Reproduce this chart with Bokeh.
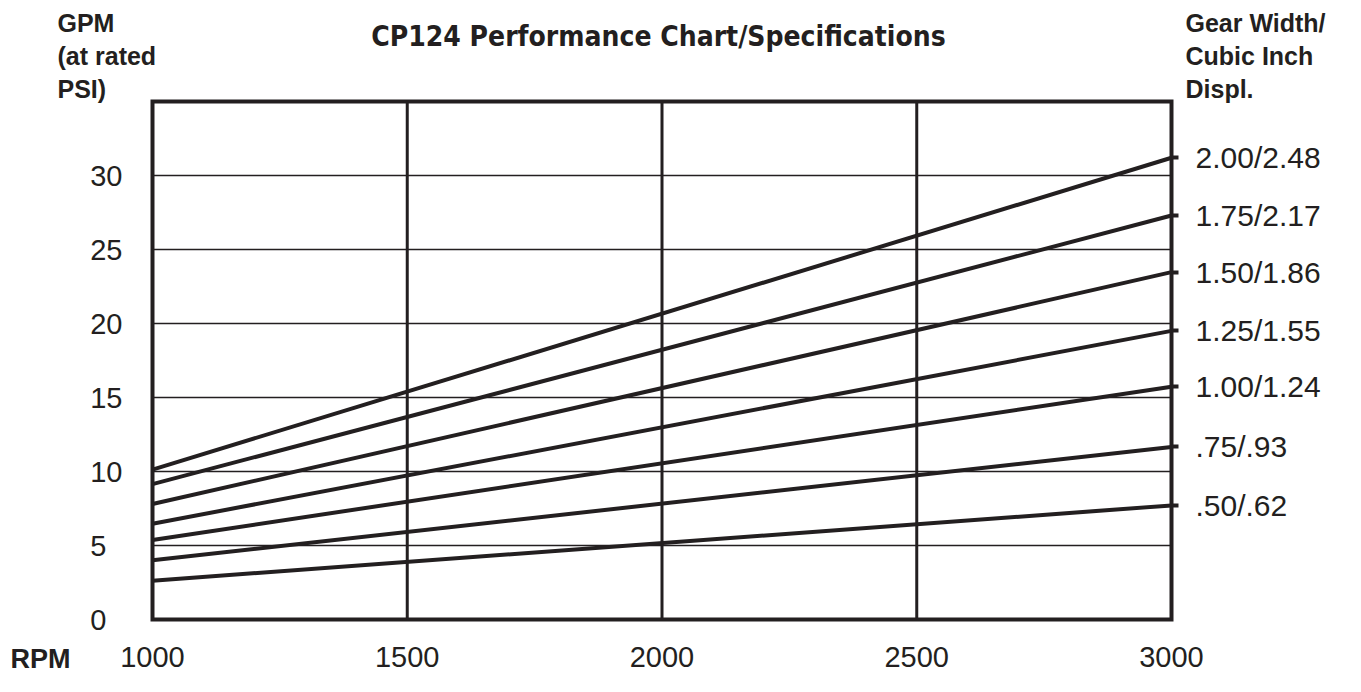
from bokeh.plotting import figure
from bokeh.models import Range1d, LinearAxis, FixedTicker, Label, ColumnDataSource
from bokeh.embed import file_html
from bokeh.resources import INLINE

# ---------------- data ----------------
rpm_min, rpm_max = 1000, 3000
gpm_min, gpm_max = 0, 35
rpm_ends = [1000, 3000]
gear_labels = ["2.00/2.48", "1.75/2.17", "1.50/1.86", "1.25/1.55", "1.00/1.24", ".75/.93", ".50/.62"]
gpm_at_1000 = [10.13, 9.15, 7.8, 6.47, 5.37, 4.0, 2.62]
gpm_at_3000 = [31.2, 27.3, 23.47, 19.5, 15.73, 11.66, 7.71]
x_ticks = [1000, 1500, 2000, 2500, 3000]
x_grid = [1500, 2000, 2500]
y_ticks = [0, 5, 10, 15, 20, 25, 30]
y_grid = [5, 10, 15, 20, 25, 30]
title_text = "CP124 Performance Chart/Specifications"
left_header = ["GPM", "(at rated", "PSI)"]
right_header = ["Gear Width/", "Cubic Inch", "Displ."]
x_name = "RPM"

# ---------------- layout ----------------
INK = "#231f20"
FONT = "Liberation Sans"
TITLE_FONT = "DejaVu Sans Condensed, Liberation Sans, sans-serif"
W, H = 1345, 676
FL, FT, FR, FB = 152, 101, 1171, 619   # chart box in canvas pixels
XPX = (rpm_max - rpm_min) / (FR - FL)
YPX = (gpm_max - gpm_min) / (FB - FT)

def dx(px):
    return rpm_min + (px - FL) * XPX

def dy(py):
    return gpm_min + (FB - py) * YPX

p = figure(width=W, height=H, output_backend="svg", toolbar_location=None,
           x_range=Range1d(dx(0), dx(W)), y_range=Range1d(dy(H), dy(0)),
           x_axis_type=None, y_axis_type=None, min_border=0,
           background_fill_color="white", border_fill_color="white")
p.outline_line_color = None
p.grid.visible = False

# grid lines inside the chart box
p.segment(x0=x_grid, y0=gpm_min, x1=x_grid, y1=gpm_max, line_color=INK, line_width=3)
p.segment(x0=rpm_min, y0=y_grid, x1=rpm_max, y1=y_grid, line_color=INK, line_width=1.7)

# performance lines
src = ColumnDataSource(dict(
    xs=[rpm_ends for _ in gear_labels],
    ys=[[a, b] for a, b in zip(gpm_at_1000, gpm_at_3000)],
    name=gear_labels,
))
p.multi_line(xs="xs", ys="ys", source=src, line_color=INK, line_width=4)

# chart box
p.quad(left=rpm_min, right=rpm_max, bottom=gpm_min, top=gpm_max,
       fill_color=None, line_color=INK, line_width=4, line_join="miter")

def style_axis(ax, standoff, size="29px"):
    ax.axis_line_color = None
    ax.major_tick_in = 0
    ax.minor_tick_in = 0
    ax.minor_tick_out = 0
    ax.major_label_standoff = standoff
    ax.major_label_text_font = FONT
    ax.major_label_text_font_size = size
    ax.major_label_text_color = INK

xaxis = LinearAxis(ticker=FixedTicker(ticks=x_ticks), fixed_location=gpm_min)
style_axis(xaxis, 27)
xaxis.major_tick_out = 0
p.add_layout(xaxis, "below")

yaxis = LinearAxis(ticker=FixedTicker(ticks=y_ticks), fixed_location=rpm_min,
                   major_label_overrides={0: "0\u2007", 5: "5\u2007"})
style_axis(yaxis, 30)
yaxis.major_tick_out = 0
p.add_layout(yaxis, "left")

raxis = LinearAxis(ticker=FixedTicker(ticks=gpm_at_3000), fixed_location=rpm_max,
                   major_label_overrides=dict(zip(gpm_at_3000, gear_labels)))
style_axis(raxis, 17, "30px")
raxis.major_tick_out = 7
raxis.major_tick_line_width = 4
raxis.major_tick_line_color = INK
p.add_layout(raxis, "right")

# ---- text annotations ----
def add_text(px, py, text, size, bold=True, align="left", font=FONT):
    p.add_layout(Label(x=dx(px), y=dy(py), text=text, text_align=align,
                       text_baseline="middle", text_font=font,
                       text_font_style="bold" if bold else "normal",
                       text_font_size=size, text_color=INK))

add_text(658, 36, title_text, "28px", align="center", font=TITLE_FONT)
for i, t in enumerate(left_header):
    add_text(57, 22 + 33 * i, t, "25px")
for i, t in enumerate(right_header):
    add_text(1185, 22 + 33 * i, t, "25px")
add_text(10, 658, x_name, "27px")

open("out.html", "w").write(file_html(p, INLINE))
